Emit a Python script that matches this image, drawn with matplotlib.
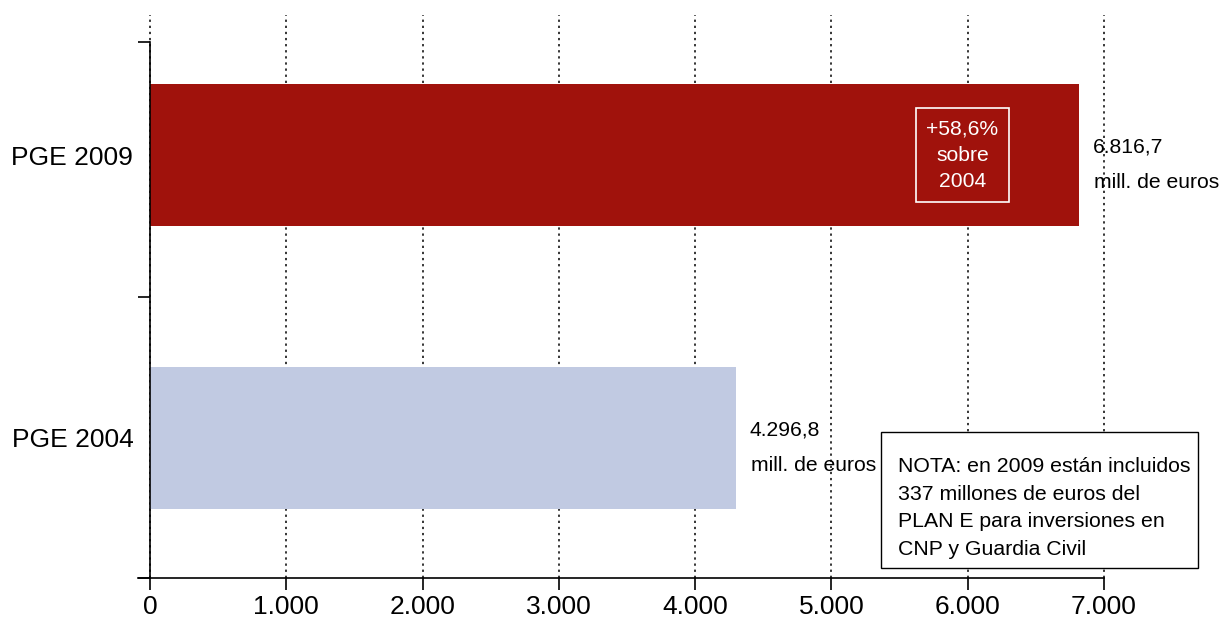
import matplotlib
matplotlib.use("Agg")
import matplotlib.pyplot as plt
from matplotlib.ticker import FixedLocator
from matplotlib.patches import Rectangle

plt.rcParams['font.family'] = ['Liberation Sans', 'DejaVu Sans']

categories = ["PGE 2004", "PGE 2009"]
values = [4296.8, 6816.7]
colors = ["#C1CAE2", "#A0120C"]
value_labels = ["4.296,8", "6.816,7"]
unit_label = "mill. de euros"
xticks = [0, 1000, 2000, 3000, 4000, 5000, 6000, 7000]
xticklabels = ["0", "1.000", "2.000", "3.000", "4.000", "5.000", "6.000", "7.000"]
growth_text = "+58,6%\nsobre\n2004"
note_text = "NOTA: en 2009 están incluidos\n337 millones de euros del\nPLAN E para inversiones en\nCNP y Guardia Civil"

W, H = 1224, 621
fig = plt.figure(figsize=(W / 100, H / 100), dpi=100)
ax = fig.add_axes([138 / W, (H - 578) / H, (1104 - 138) / W, (578 - 15) / H])

ypos = list(range(len(categories)))
ax.barh(ypos, values, height=0.5, color=colors, zorder=2)

ax.set_xlim(-88, 7000)
ax.set_ylim(-0.495, 1.495)

# spines
for s in ["top", "right"]:
    ax.spines[s].set_visible(False)
ax.spines["left"].set_position(("data", 0))
ax.spines["left"].set_bounds(-0.495, 1.4)
ax.spines["left"].set_linewidth(1.2)
ax.spines["bottom"].set_linewidth(1.2)

# x ticks
ax.set_xticks(xticks)
ax.set_xticklabels(xticklabels, fontsize=19)
ax.tick_params(axis="x", direction="out", length=8.6, width=1.2, pad=4)

# y ticks: labels at centers, marks at boundaries
ax.set_yticks(ypos)
ax.set_yticklabels(categories, fontsize=19)
ax.tick_params(axis="y", which="major", length=0, pad=12)
ax.yaxis.set_minor_locator(FixedLocator([-0.495, 0.5, 1.4]))
ax.tick_params(axis="y", which="minor", direction="out", length=8.6, width=1.2)

# grid
ax.set_axisbelow(True)
ax.xaxis.grid(True, color="black", linestyle=(0, (1.5, 2.5)), linewidth=1.1)
for gl in ax.get_xgridlines():
    gl.set_clip_on(False)

# value labels
for y, v, lab in zip(ypos, values, value_labels):
    ax.annotate(lab, xy=(v, y), xytext=(10, 6), textcoords="offset points",
                fontsize=15.2, ha="left", va="center")
    ax.annotate(unit_label, xy=(v, y), xytext=(11, -20), textcoords="offset points",
                fontsize=15.2, ha="left", va="center")

# growth box inside 2009 bar
ax.annotate(growth_text, xy=(values[1], ypos[1]), xytext=(-84, 0),
            textcoords="offset points", fontsize=15.2, color="white",
            ha="center", va="center", linespacing=1.5,
            bbox=dict(boxstyle="square,pad=0.5", fc="none", ec="white", lw=1.2),
            zorder=5)

# note box
fig.patches.append(Rectangle((881 / W, 1 - 568 / H), (1198 - 881) / W, (568 - 432) / H,
                             transform=fig.transFigure, fc="white", ec="black",
                             lw=1.0, zorder=9))
fig.text(898 / W, 1 - 508 / H, note_text, fontsize=15.3, ha="left", va="center",
         linespacing=1.58, zorder=10)

fig.savefig("out.png", dpi=100)
